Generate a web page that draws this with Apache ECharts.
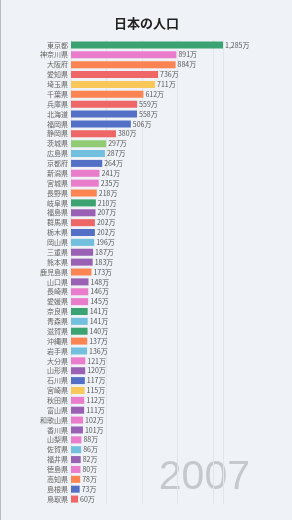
<!DOCTYPE html>
<html>
<head>
<meta charset="utf-8">
<script src="https://cdn.jsdelivr.net/npm/echarts@6/dist/echarts.min.js"></script>
<style>
  html, body { margin: 0; padding: 0; background: #eff2f6; }
  #main { width: 292px; height: 520px; box-sizing: border-box; border-left: 1px solid #b8bcc2; }
</style>
</head>
<body>
<div id="main"></div>
<script>
// prefectures, sorted by population (2007)
const prefectures = [
  "東京都", "神奈川県", "大阪府", "愛知県", "埼玉県", "千葉県", "兵庫県", "北海道",
  "福岡県", "静岡県", "茨城県", "広島県", "京都府", "新潟県", "宮城県", "長野県",
  "岐阜県", "福島県", "群馬県", "栃木県", "岡山県", "三重県", "熊本県", "鹿児島県",
  "山口県", "長崎県", "愛媛県", "奈良県", "青森県", "滋賀県", "沖縄県", "岩手県",
  "大分県", "山形県", "石川県", "宮崎県", "秋田県", "富山県", "和歌山県", "香川県",
  "山梨県", "佐賀県", "福井県", "徳島県", "高知県", "島根県", "鳥取県"
]

// population in 万人
const population = [
  1285, 891, 884, 736, 711, 612, 559, 558,
  506, 380, 297, 287, 264, 241, 235, 218,
  210, 207, 202, 202, 196, 187, 183, 173,
  148, 146, 145, 141, 141, 140, 137, 136,
  121, 120, 117, 115, 112, 111, 102, 101,
  88, 86, 82, 80, 78, 73, 60
]

// bar colour per prefecture (default palette picks)
const barColors = [
  "#3ba272", "#ea7ccc", "#fc8452", "#ee6666", "#fac858", "#fc8452", "#ee6666", "#5470c6",
  "#5470c6", "#ee6666", "#91cc75", "#73c0de", "#5470c6", "#ea7ccc", "#ea7ccc", "#fc8452",
  "#3ba272", "#9a60b4", "#ee6666", "#5470c6", "#73c0de", "#9a60b4", "#9a60b4", "#fc8452",
  "#9a60b4", "#ea7ccc", "#ea7ccc", "#3ba272", "#73c0de", "#3ba272", "#fc8452", "#73c0de",
  "#ea7ccc", "#9a60b4", "#5470c6", "#fac858", "#ea7ccc", "#9a60b4", "#ea7ccc", "#9a60b4",
  "#ea7ccc", "#73c0de", "#9a60b4", "#ea7ccc", "#fc8452", "#5470c6", "#ee6666"
]

const year = "2007"

const chart = echarts.init(document.getElementById("main"))

const option = {
  animation: false,
  title: {
    text: "日本の人口",
    left: "center",
    top: 12,
    textStyle: {
      fontSize: 13,
      fontWeight: "bold",
      color: "#222",
      fontFamily: "Noto Sans CJK JP"
    }
  },
  grid: {
    left: 70,
    right: 69,
    top: 40,
    bottom: 16
  },
  xAxis: {
    type: "value",
    min: 0,
    max: 1285,
    interval: 300,
    axisLabel: { show: false },
    axisLine: { show: false },
    axisTick: { show: false },
    splitLine: { lineStyle: { color: "#e2e5ea" } }
  },
  yAxis: {
    type: "category",
    inverse: true,
    data: prefectures,
    axisLine: { show: false },
    axisTick: { show: false },
    axisLabel: {
      fontSize: 7,
      color: "#666",
      margin: 3,
      fontFamily: "Noto Sans CJK JP"
    }
  },
  series: [
    {
      type: "bar",
      data: population.map((v, i) => ({ value: v, itemStyle: { color: barColors[i] } })),
      barCategoryGap: "29%",
      label: {
        show: true,
        position: "right",
        distance: 2,
        fontSize: 7,
        color: "#555",
        fontFamily: "Noto Sans CJK JP",
        formatter: (p) => p.value.toLocaleString("en-US") + "万"
      }
    }
  ],
  graphic: [
    {
      type: "text",
      right: 42,
      top: 457,
      style: {
        text: year,
        fontSize: 41,
        fill: "rgba(120,126,134,0.35)",
        fontFamily: "Liberation Sans"
      }
    }
  ]
}

chart.setOption(option)
</script>
</body>
</html>
